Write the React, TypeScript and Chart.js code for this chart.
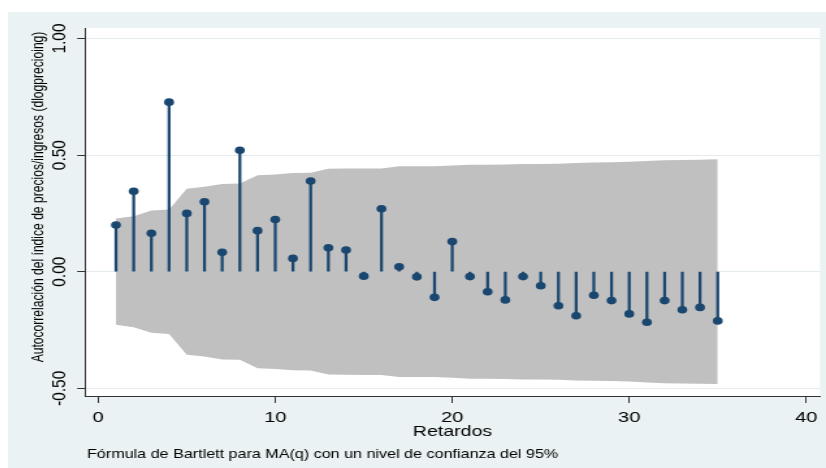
import { useEffect, useRef } from "react";
import { Chart, registerables } from "chart.js";

Chart.register(...registerables);

// ---- data ----
const lags = [
  1, 2, 3, 4, 5, 6, 7, 8, 9, 10, 11, 12, 13, 14, 15, 16, 17, 18, 19, 20,
  21, 22, 23, 24, 25, 26, 27, 28, 29, 30, 31, 32, 33, 34, 35,
];
const acf = [
  0.2, 0.345, 0.165, 0.727, 0.25, 0.3, 0.083, 0.521, 0.176, 0.224, 0.057,
  0.389, 0.103, 0.093, -0.019, 0.27, 0.021, -0.022, -0.11, 0.129, -0.021,
  -0.086, -0.121, -0.021, -0.06, -0.146, -0.189, -0.101, -0.124, -0.181,
  -0.217, -0.124, -0.163, -0.153, -0.211,
];
const bandUpper = [
  0.228, 0.238, 0.262, 0.267, 0.356, 0.364, 0.376, 0.378, 0.414, 0.417,
  0.423, 0.424, 0.441, 0.442, 0.443, 0.443, 0.452, 0.452, 0.452, 0.455,
  0.459, 0.459, 0.46, 0.462, 0.462, 0.463, 0.466, 0.468, 0.469, 0.471,
  0.475, 0.478, 0.479, 0.48, 0.482,
];
const bandLower = [
  -0.228, -0.238, -0.262, -0.267, -0.356, -0.364, -0.376, -0.378, -0.414,
  -0.417, -0.423, -0.424, -0.441, -0.442, -0.443, -0.443, -0.452, -0.452,
  -0.452, -0.455, -0.459, -0.459, -0.46, -0.462, -0.462, -0.463, -0.466,
  -0.468, -0.469, -0.471, -0.475, -0.478, -0.479, -0.48, -0.482,
];
const xTicks = [0, 10, 20, 30, 40];
const xTickLabels = ["0", "10", "20", "30", "40"];
const yTicks = [-0.5, 0, 0.5, 1];
const yTickLabels = ["-0.50", "0.00", "0.50", "1.00"];
const xTitle = "Retardos";
const yTitle = "Autocorrelación del índice de precios/ingresos (dlogprecioing)";
const note = "Fórmula de Bartlett para MA(q) con un nivel de confianza del 95%";

// ---- styling ----
const FONT = '"Liberation Sans", Arial, sans-serif';
const NAVY = "#1a476f";
const BAND = "#c0c0c0";
const OUTER_BG = "#eaf2f3";
const AXIS = "#333333";
const GRID = "#e3ebee";
const INNER_W = 629;
const INNER_H = 456;

const decor = {
  id: "decor",
  beforeDraw(chart: any) {
    const { ctx, width, height, chartArea: a } = chart;
    ctx.save();
    ctx.fillStyle = OUTER_BG;
    ctx.fillRect(0, 0, width, height);
    ctx.fillStyle = "#ffffff";
    ctx.fillRect(a.left, a.top, a.right - a.left, a.bottom - a.top);
    ctx.restore();
  },
  afterDraw(chart: any) {
    const { ctx } = chart;
    const ys = chart.scales.y;
    ctx.save();
    ctx.fillStyle = "#000000";
    // rotated y tick labels
    ctx.font = `15.5px ${FONT}`;
    ctx.textAlign = "center";
    ctx.textBaseline = "middle";
    yTicks.forEach((v, i) => {
      const py = ys.getPixelForValue(v);
      ctx.save();
      ctx.translate(39.6, py);
      ctx.rotate(-Math.PI / 2);
      ctx.fillText(yTickLabels[i], 0, 0);
      ctx.restore();
    });
    // y title
    ctx.font = `12.1px ${FONT}`;
    ctx.save();
    ctx.translate(23.8, 185);
    ctx.rotate(-Math.PI / 2);
    ctx.fillText(yTitle, 0, 0);
    ctx.restore();
    // note
    ctx.textAlign = "left";
    ctx.textBaseline = "alphabetic";
    ctx.font = `12.4px ${FONT}`;
    ctx.fillText(note, 60.8, 445.6);
    ctx.restore();
  },
};

export default function App() {
  const ref = useRef<HTMLCanvasElement | null>(null);

  useEffect(() => {
    if (!ref.current) return;
    const chart = new Chart(ref.current, {
      type: "line",
      data: {
        datasets: [
          {
            type: "line",
            data: lags.map((l, i) => ({ x: l, y: bandUpper[i] })),
            fill: "+1",
            backgroundColor: BAND,
            borderColor: "rgba(0,0,0,0)",
            borderWidth: 0,
            pointRadius: 0,
            tension: 0,
            order: 3,
          },
          {
            type: "line",
            data: lags.map((l, i) => ({ x: l, y: bandLower[i] })),
            fill: false,
            borderColor: "rgba(0,0,0,0)",
            borderWidth: 0,
            pointRadius: 0,
            tension: 0,
            order: 4,
          },
          {
            type: "bar",
            data: lags.map((l, i) => ({ x: l, y: acf[i] })),
            backgroundColor: NAVY,
            borderWidth: 0,
            barThickness: 1.6,
            grouped: false,
            order: 2,
          },
          {
            type: "line",
            data: lags.map((l, i) => ({ x: l, y: acf[i] })),
            showLine: false,
            borderColor: "rgba(0,0,0,0)",
            pointRadius: 3.8,
            pointBackgroundColor: NAVY,
            pointBorderWidth: 0,
            pointBorderColor: NAVY,
            order: 1,
          },
        ] as any,
      },
      options: {
        responsive: false,
        animation: false,
        devicePixelRatio: 1,
        events: [],
        layout: { padding: { left: 0, right: 4.6, top: 16, bottom: 22 } },
        plugins: {
          legend: { display: false },
          tooltip: { enabled: false },
        },
        scales: {
          x: {
            type: "linear",
            min: -0.75,
            max: 40.78,
            offset: false,
            afterBuildTicks: (s: any) => {
              s.ticks = xTicks.map((v) => ({ value: v }));
            },
            afterFit: (s: any) => {
              s.height = 50;
            },
            grid: {
              display: true,
              offset: false,
              drawOnChartArea: false,
              drawTicks: true,
              tickLength: 7,
              color: AXIS,
              tickColor: AXIS,
              lineWidth: 1,
            },
            border: { display: true, color: AXIS, width: 1 },
            ticks: {
              padding: 5,
              autoSkip: false,
              maxRotation: 0,
              minRotation: 0,
              color: "#000000",
              font: { size: 15.5, family: FONT },
              callback: (_v: any, i: number) => xTickLabels[i],
            },
            title: {
              display: true,
              text: xTitle,
              color: "#000000",
              font: { size: 15, family: FONT },
              padding: { top: 0, bottom: 5 },
            },
          },
          y: {
            type: "linear",
            min: -0.533,
            max: 1.045,
            afterBuildTicks: (s: any) => {
              s.ticks = yTicks.map((v) => ({ value: v }));
            },
            afterFit: (s: any) => {
              s.width = 59.2;
            },
            grid: {
              color: GRID,
              tickColor: AXIS,
              drawTicks: true,
              tickLength: 6,
              lineWidth: 1,
            },
            border: { display: true, color: AXIS, width: 1 },
            ticks: { display: false },
          },
        },
      } as any,
      plugins: [decor],
    });
    return () => chart.destroy();
  }, []);

  return (
    <canvas
      ref={ref}
      width={INNER_W}
      height={INNER_H}
      style={{
        position: "absolute",
        left: "8px",
        top: "12px",
        width: "818px",
        height: "456px",
        display: "block",
      }}
    />
  );
}
